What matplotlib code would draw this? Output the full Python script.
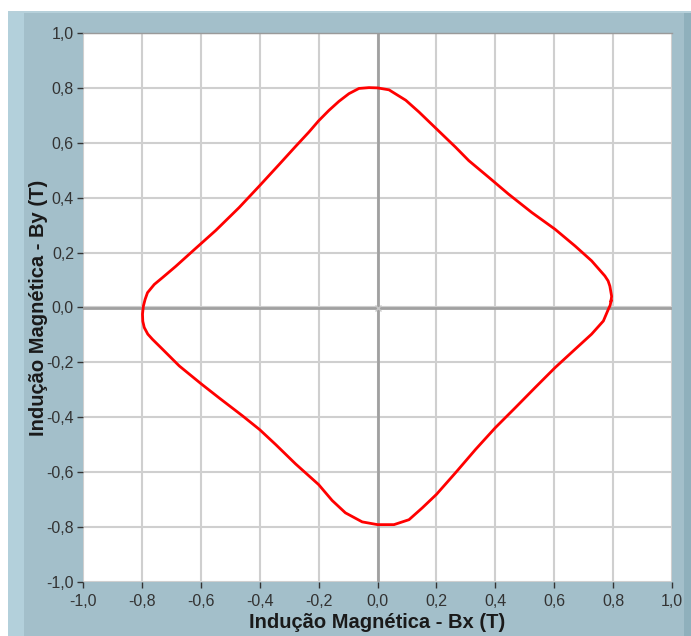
import matplotlib.pyplot as plt
from matplotlib.patches import Rectangle
from matplotlib.ticker import FuncFormatter, MultipleLocator

# B-field locus, in order round the loop (Tesla)
bx = [0.793, 0.795, 0.789, 0.783, 0.772, 0.727, 0.671, 0.603, 0.524, 0.445, 0.378,
      0.310, 0.265, 0.200, 0.141, 0.096, 0.039, 0.000,
      -0.029, -0.063, -0.097, -0.131, -0.165, -0.200, -0.233, -0.278, -0.334,
      -0.400, -0.470, -0.549, -0.623, -0.685, -0.730, -0.758, -0.781, -0.789, -0.795,
      -0.798, -0.797, -0.792, -0.780, -0.764, -0.730, -0.673, -0.600, -0.537, -0.458, -0.400,
      -0.345, -0.278, -0.200, -0.154, -0.109, -0.052, 0.000,
      0.056, 0.107, 0.152, 0.200, 0.265, 0.333, 0.400, 0.468, 0.535, 0.603,
      0.671, 0.727, 0.767, 0.784, 0.790]
by = [0.024, 0.041, 0.078, 0.097, 0.115, 0.170, 0.224, 0.285, 0.346, 0.413, 0.474,
      0.535, 0.584, 0.651, 0.712, 0.755, 0.793, 0.800,
      0.801, 0.798, 0.779, 0.751, 0.718, 0.680, 0.639, 0.587, 0.521,
      0.444, 0.364, 0.281, 0.210, 0.150, 0.109, 0.084, 0.054, 0.030, 0.005,
      -0.024, -0.050, -0.073, -0.097, -0.116, -0.152, -0.213, -0.277, -0.330, -0.395, -0.445,
      -0.500, -0.570, -0.645, -0.703, -0.748, -0.781, -0.791,
      -0.791, -0.773, -0.730, -0.681, -0.602, -0.517, -0.438, -0.365, -0.292, -0.219,
      -0.152, -0.097, -0.049, -0.006, 0.008]

xlabel = "Indução Magnética - Bx (T)"
ylabel = "Indução Magnética - By (T)"

plt.rcParams['font.family'] = ['Liberation Sans', 'DejaVu Sans']

W, H = 691, 636
fig = plt.figure(figsize=(W / 100, H / 100), dpi=100, facecolor='white')

# LabVIEW-style frame behind the graph
frame = [
    ((8, 0), W - 8, H - 11, '#a3bfca'),
    ((8, 0), 16, H - 11, '#b3d0db'),
    ((684, 0), 7, H - 11, '#8fb0bc'),
    ((8, H - 13), W - 8, 2, '#b6d0da'),
]
for (x0, y0), w, h, c in frame:
    fig.patches.append(Rectangle((x0 / W, y0 / H), w / W, h / H, transform=fig.transFigure,
                                 facecolor=c, edgecolor='none', zorder=-10))

ax = fig.add_axes([83 / W, (H - 582) / H, (672 - 83) / W, (582 - 33) / H])
ax.set_facecolor('white')
ax.set_xlim(-1, 1)
ax.set_ylim(-1, 1)

ax.xaxis.set_major_locator(MultipleLocator(0.2))
ax.yaxis.set_major_locator(MultipleLocator(0.2))
fmt = FuncFormatter(lambda v, p: f"{v:.1f}".replace('.', ',').replace('-0,0', '0,0'))
ax.xaxis.set_major_formatter(fmt)
ax.yaxis.set_major_formatter(fmt)

ax.grid(True, color='#cfcfcf', lw=1.5)
ax.set_axisbelow(True)
ax.axhline(0, color='#a0a0a0', lw=2, zorder=1.5)
ax.axvline(0, color='#a0a0a0', lw=2, zorder=1.5)
ax.plot([0], [0], marker='x', ms=4, color='#c8c8c8', mew=1, zorder=1.6)

for s in ax.spines.values():
    s.set_visible(False)
ax.spines['top'].set_visible(True)
ax.spines['top'].set_color('#9a9a9a')
ax.spines['top'].set_linewidth(1)

tick_font = ['Liberation Sans Narrow', 'Liberation Sans']
ax.tick_params(direction='out', length=4.5, width=1, color='#333333',
               labelcolor='#333333', labelsize=11.5)
ax.tick_params(axis='x', pad=4)
ax.tick_params(axis='y', pad=2)
for lab in ax.get_xticklabels() + ax.get_yticklabels():
    lab.set_family(tick_font)

ax.plot(bx + bx[:1], by + by[:1], color='#ff0000', lw=2, zorder=3,
        solid_joinstyle='round')

ax.set_xlabel(xlabel, fontsize=14.5, fontweight='bold', color='#1a1a1a', labelpad=3)
ax.set_ylabel(ylabel, fontsize=14.5, fontweight='bold', color='#1a1a1a', labelpad=-1.5)

fig.savefig('out.png', dpi=100, facecolor=fig.get_facecolor())
